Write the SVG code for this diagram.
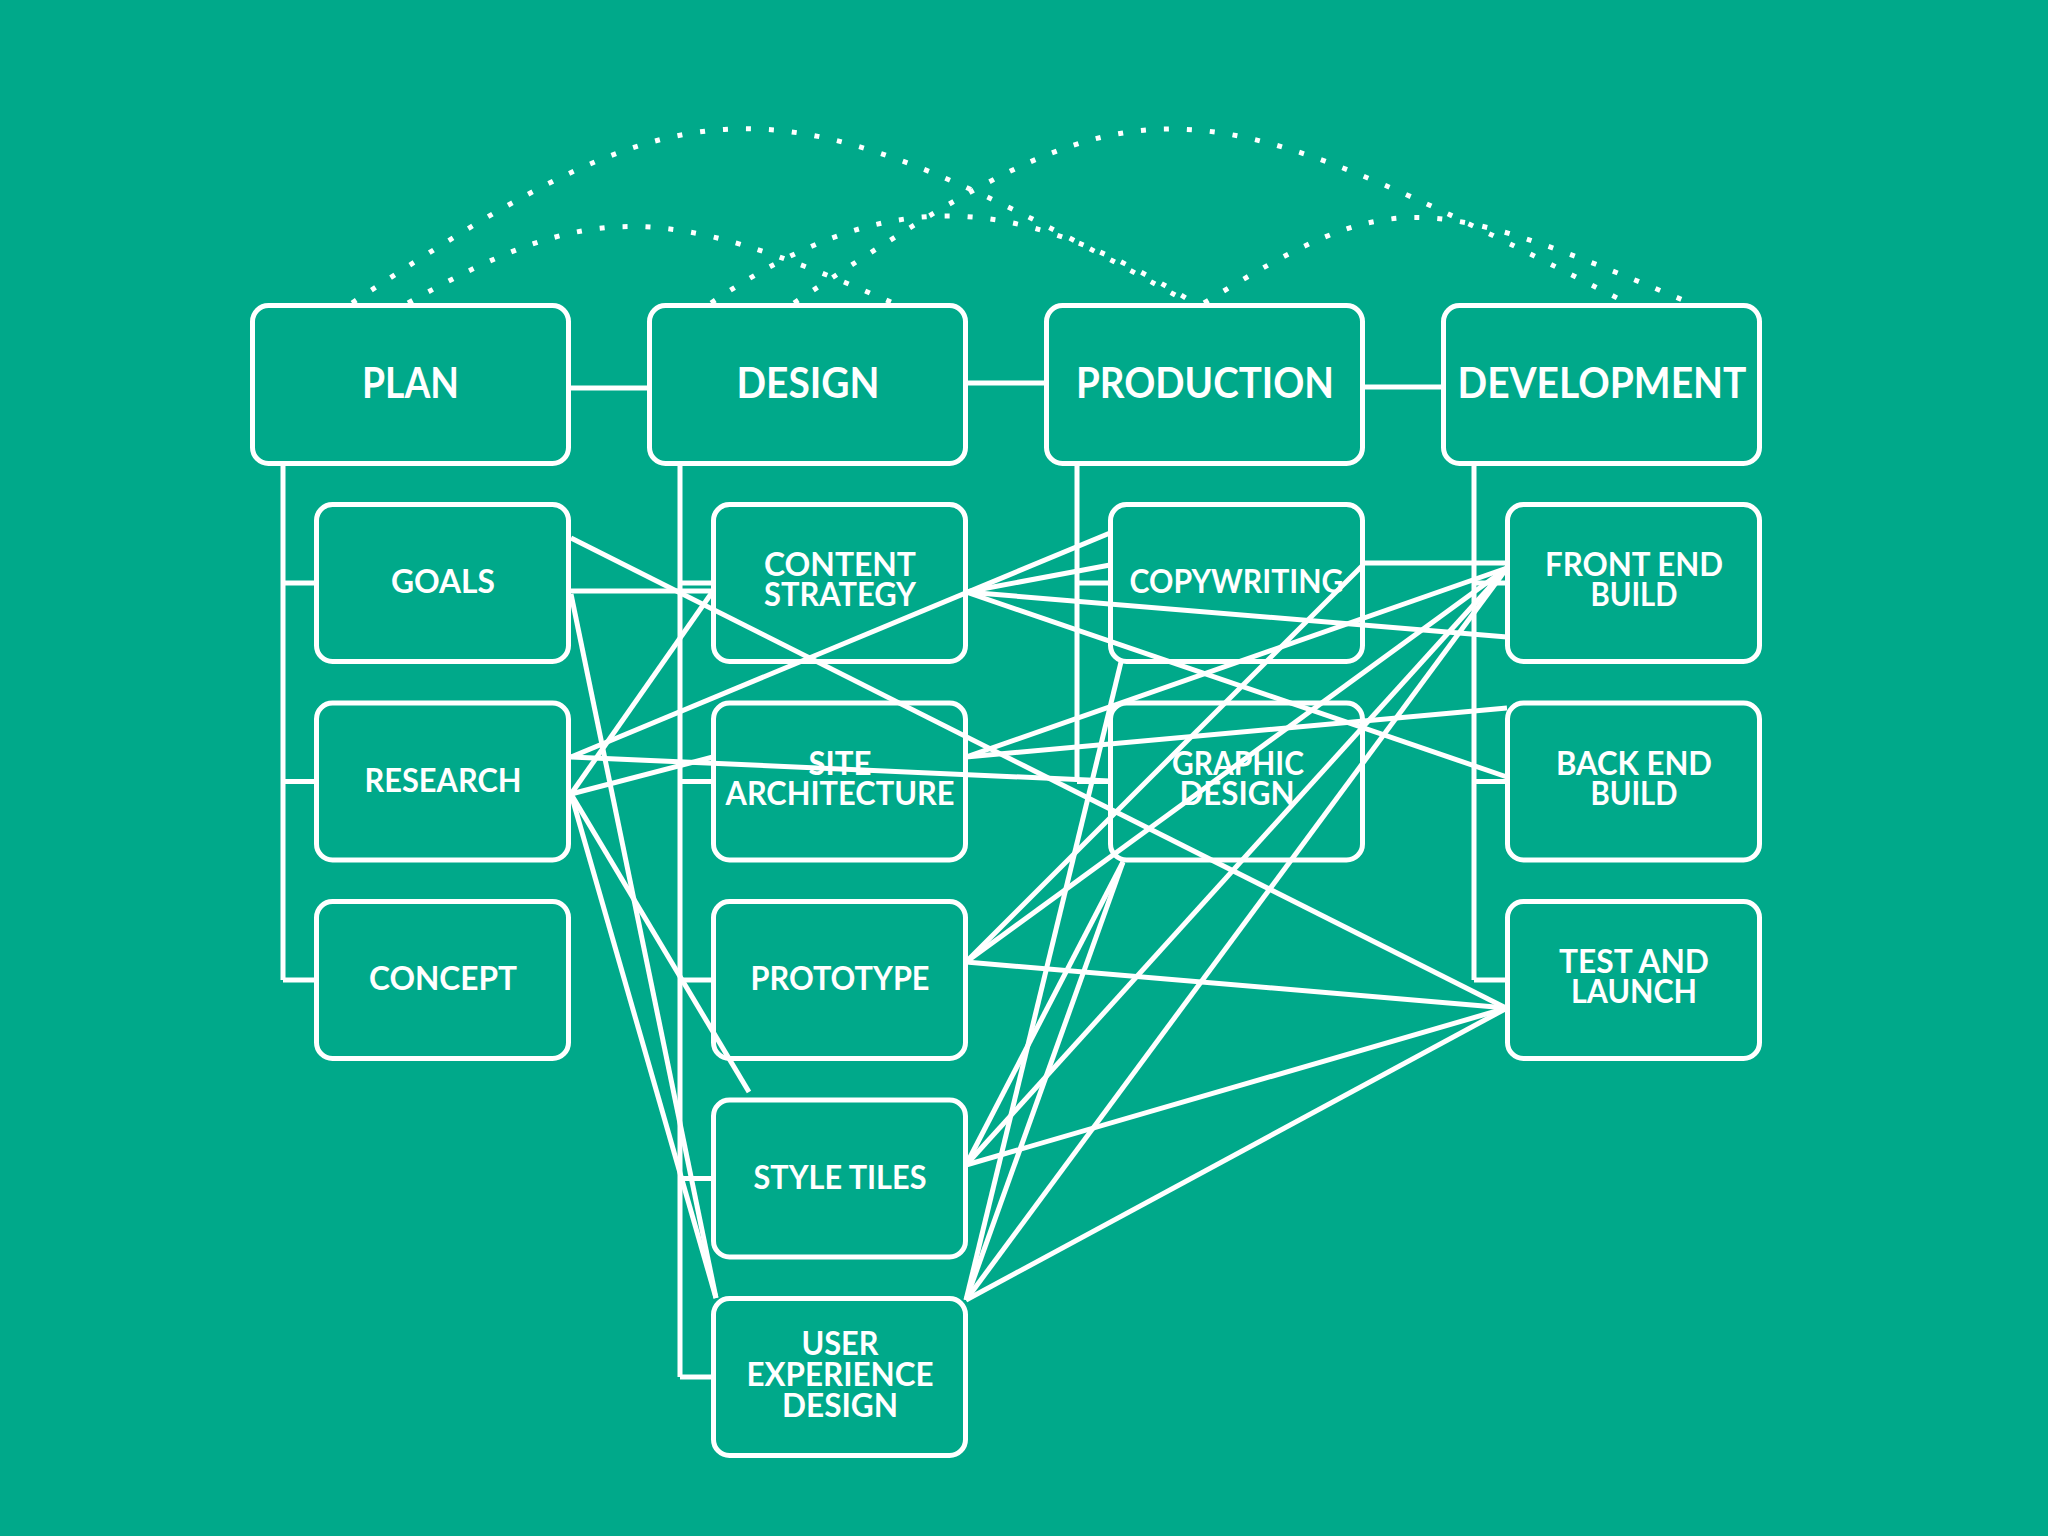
<svg xmlns="http://www.w3.org/2000/svg" width="2048" height="1536" viewBox="0 0 2048 1536">
<style>
.bx{fill:none;stroke:#fff;stroke-width:5}
.ln{fill:none;stroke:#fff;stroke-width:5}
.dot{fill:none;stroke:#fff;stroke-width:5;stroke-dasharray:5 18}
.h{font-family:Lato,"Open Sans",sans-serif;font-weight:700;font-size:42px;fill:#fff;text-anchor:middle}
.s{font-family:Lato,"Open Sans",sans-serif;font-weight:700;font-size:33px;fill:#fff;text-anchor:middle}
</style>
<rect x="0" y="0" width="2048" height="1536" fill="#00A98A"/>
<g id="arcs">
<path class="dot" d="M352,303 C701,71 771,71 1186,301"/>
<path class="dot" d="M408,303 C590,201 661,201 893,303"/>
<path class="dot" d="M711,303 C882,187 1009,187 1194,303"/>
<path class="dot" d="M794,303 C1143,71 1173,71 1627,303"/>
<path class="dot" d="M1204,303 C1390,189 1420,189 1690,303"/>
</g>
<g id="tree">
<path class="ln" d="M568.5,388H649.5M965.5,383H1046.5M1362.5,387H1443.5"/>
<path class="ln" d="M283,463.5V980M283,583H316.5M283,781.5H316.5M283,980H316.5"/>
<path class="ln" d="M680,463.5V1377M680,583H713.5M680,781.5H713.5M680,980H713.5M680,1178.5H713.5M680,1377H713.5"/>
<path class="ln" d="M1077,463.5V781.5M1077,583H1110.5M1077,781.5H1110.5"/>
<path class="ln" d="M1474,463.5V980M1474,583H1507.5M1474,781.5H1507.5M1474,980H1507.5"/>
</g>
<g id="connectors">
<path class="ln" d="M571,538L1506,1008"/>
<path class="ln" d="M571,591L713,591"/>
<path class="ln" d="M571,594L716,1298"/>
<path class="ln" d="M571,757L1110,533"/>
<path class="ln" d="M571,757L1110,781"/>
<path class="ln" d="M571,794L713,591"/>
<path class="ln" d="M571,794L713,757"/>
<path class="ln" d="M571,794L749,1092"/>
<path class="ln" d="M571,794L716,1298"/>
<path class="ln" d="M966,592L1110,565"/>
<path class="ln" d="M966,592L1507,637"/>
<path class="ln" d="M966,592L1507,777"/>
<path class="ln" d="M966,757L1507,568"/>
<path class="ln" d="M966,757L1507,708"/>
<path class="ln" d="M1362,563L1507,563"/>
<path class="ln" d="M966,962L1362,566"/>
<path class="ln" d="M966,962L1507,568"/>
<path class="ln" d="M966,962L1507,1008"/>
<path class="ln" d="M966,1165L1123,862"/>
<path class="ln" d="M966,1165L1507,568"/>
<path class="ln" d="M966,1165L1507,1008"/>
<path class="ln" d="M966,1300L1121,662"/>
<path class="ln" d="M966,1300L1123,862"/>
<path class="ln" d="M966,1300L1507,568"/>
<path class="ln" d="M966,1300L1507,1008"/>
</g>
<g id="plan"><rect class="bx" x="252.5" y="305.5" width="316" height="158" rx="16"/><text class="h" x="410.5" y="398" textLength="97" lengthAdjust="spacingAndGlyphs">PLAN</text></g>
<g id="design"><rect class="bx" x="649.5" y="305.5" width="316" height="158" rx="16"/><text class="h" x="808" y="398" textLength="143" lengthAdjust="spacingAndGlyphs">DESIGN</text></g>
<g id="production"><rect class="bx" x="1046.5" y="305.5" width="316" height="158" rx="16"/><text class="h" x="1205" y="398" textLength="258" lengthAdjust="spacingAndGlyphs">PRODUCTION</text></g>
<g id="development"><rect class="bx" x="1443.5" y="305.5" width="316" height="158" rx="16"/><text class="h" x="1602" y="398" textLength="289" lengthAdjust="spacingAndGlyphs">DEVELOPMENT</text></g>
<g id="goals"><rect class="bx" x="316.5" y="504.5" width="252" height="157" rx="16"/><text class="s" x="443" y="593" textLength="104" lengthAdjust="spacingAndGlyphs">GOALS</text></g>
<g id="research"><rect class="bx" x="316.5" y="703" width="252" height="157" rx="16"/><text class="s" x="443" y="791.5" textLength="157" lengthAdjust="spacingAndGlyphs">RESEARCH</text></g>
<g id="concept"><rect class="bx" x="316.5" y="901.5" width="252" height="157" rx="16"/><text class="s" x="443" y="990" textLength="148" lengthAdjust="spacingAndGlyphs">CONCEPT</text></g>
<g id="content-strategy"><rect class="bx" x="713.5" y="504.5" width="252" height="157" rx="16"/><text class="s" x="840" y="576" textLength="152" lengthAdjust="spacingAndGlyphs">CONTENT</text><text class="s" x="840" y="606" textLength="152" lengthAdjust="spacingAndGlyphs">STRATEGY</text></g>
<g id="site-architecture"><rect class="bx" x="713.5" y="703" width="252" height="157" rx="16"/><text class="s" x="840" y="774.5" textLength="63" lengthAdjust="spacingAndGlyphs">SITE</text><text class="s" x="840" y="804.5" textLength="229" lengthAdjust="spacingAndGlyphs">ARCHITECTURE</text></g>
<g id="prototype"><rect class="bx" x="713.5" y="901.5" width="252" height="157" rx="16"/><text class="s" x="840" y="990" textLength="179" lengthAdjust="spacingAndGlyphs">PROTOTYPE</text></g>
<g id="style-tiles"><rect class="bx" x="713.5" y="1100" width="252" height="157" rx="16"/><text class="s" x="840" y="1188.5" textLength="173" lengthAdjust="spacingAndGlyphs">STYLE TILES</text></g>
<g id="ux-design"><rect class="bx" x="713.5" y="1298.5" width="252" height="157" rx="16"/><text class="s" x="840" y="1355" textLength="77" lengthAdjust="spacingAndGlyphs">USER</text><text class="s" x="840" y="1386" textLength="187" lengthAdjust="spacingAndGlyphs">EXPERIENCE</text><text class="s" x="840" y="1417" textLength="116" lengthAdjust="spacingAndGlyphs">DESIGN</text></g>
<g id="copywriting"><rect class="bx" x="1110.5" y="504.5" width="252" height="157" rx="16"/><text class="s" x="1236.5" y="593" textLength="214" lengthAdjust="spacingAndGlyphs">COPYWRITING</text></g>
<g id="graphic-design"><rect class="bx" x="1110.5" y="703" width="252" height="157" rx="16"/><text class="s" x="1238" y="774.5" textLength="132" lengthAdjust="spacingAndGlyphs">GRAPHIC</text><text class="s" x="1237" y="804.5" textLength="115" lengthAdjust="spacingAndGlyphs">DESIGN</text></g>
<g id="front-end-build"><rect class="bx" x="1507.5" y="504.5" width="252" height="157" rx="16"/><text class="s" x="1634" y="576" textLength="178" lengthAdjust="spacingAndGlyphs">FRONT END</text><text class="s" x="1634" y="606" textLength="87" lengthAdjust="spacingAndGlyphs">BUILD</text></g>
<g id="back-end-build"><rect class="bx" x="1507.5" y="703" width="252" height="157" rx="16"/><text class="s" x="1634" y="774.5" textLength="156" lengthAdjust="spacingAndGlyphs">BACK END</text><text class="s" x="1634" y="804.5" textLength="87" lengthAdjust="spacingAndGlyphs">BUILD</text></g>
<g id="test-and-launch"><rect class="bx" x="1507.5" y="901.5" width="252" height="157" rx="16"/><text class="s" x="1634" y="973" textLength="150" lengthAdjust="spacingAndGlyphs">TEST AND</text><text class="s" x="1634" y="1003" textLength="126" lengthAdjust="spacingAndGlyphs">LAUNCH</text></g>
</svg>
